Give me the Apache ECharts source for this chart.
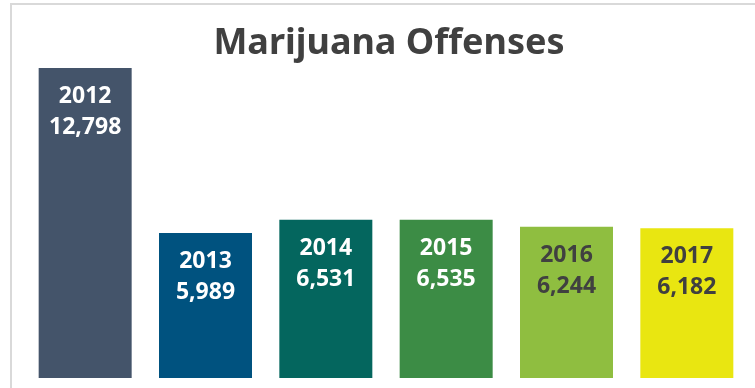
<!DOCTYPE html>
<html>
<head>
<meta charset="utf-8">
<script src="https://cdn.jsdelivr.net/npm/echarts@6/dist/echarts.min.js"></script>
<style>
html,body{margin:0;padding:0;background:#fff;}
#chart{width:755px;height:388px;}
</style>
</head>
<body>
<div id="chart"></div>
<script>
const years = ['2012', '2013', '2014', '2015', '2016', '2017'];
const offenses = [12798, 5989, 6531, 6535, 6244, 6182];

const barColors = ['#44546a', '#00527f', '#04665e', '#3c8c45', '#8fbe40', '#e9e611'];
const labelColors = ['#ffffff', '#ffffff', '#ffffff', '#ffffff', '#404040', '#404040'];

const chart = echarts.init(document.getElementById('chart'), null, {renderer: 'canvas'});
chart.setOption({
  animation: false,
  backgroundColor: '#ffffff',
  title: {
    text: 'Marijuana Offenses',
    left: 384,
    textAlign: 'center',
    top: 21,
    textStyle: {
      fontFamily: 'Noto Sans',
      fontWeight: 'bold',
      fontSize: 36,
      color: '#404040'
    }
  },
  graphic: [{
    type: 'rect',
    shape: {x: 11, y: 4, width: 760, height: 400},
    style: {fill: 'none', stroke: '#d9d9d9', lineWidth: 2},
    silent: true,
    z: -1
  }],
  grid: {left: 25, right: 8, top: 68, bottom: 10},
  xAxis: {
    type: 'category',
    data: years,
    show: false
  },
  yAxis: {
    type: 'value',
    min: 0,
    max: 12798,
    show: false
  },
  series: [{
    type: 'bar',
    barWidth: 93,
    data: offenses.map((v, i) => ({
      value: v,
      itemStyle: {color: barColors[i]},
      label: {color: labelColors[i]}
    })),
    label: {
      show: true,
      position: 'insideTop',
      distance: 13,
      fontFamily: 'Noto Sans',
      fontWeight: 'bold',
      fontSize: 23,
      lineHeight: 31,
      formatter: p => p.name + '\n' + p.value.toLocaleString('en-US')
    }
  }]
});
</script>
</body>
</html>
